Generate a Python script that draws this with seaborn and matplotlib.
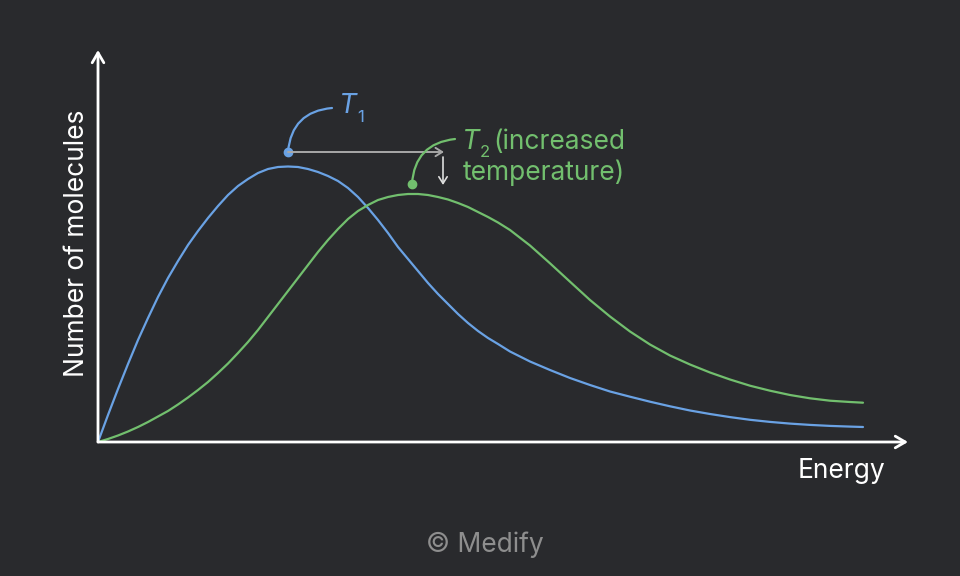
import matplotlib
matplotlib.use("Agg")
import matplotlib.pyplot as plt
import seaborn as sns
import pandas as pd

# energy distribution (arbitrary units)
energy_t1 = [0, 10, 20, 30, 40, 50, 60, 70, 80, 90, 100, 110, 120, 130, 140, 150,
             160, 170, 180, 190, 200, 210, 220, 230, 240, 250, 260, 270, 280, 290,
             300, 310, 320, 330, 340, 350, 360, 370, 380, 390, 400, 412, 432, 452,
             472, 492, 512, 532, 552, 572, 592, 612, 632, 652, 672, 692, 712, 732,
             752, 765]
count_t1 = [0, 27, 53, 78, 102, 124, 145, 164, 181, 197, 211, 224, 236, 247, 256,
            263, 269, 273, 275, 275.5, 275, 273, 270, 266, 261, 254, 245, 234, 222,
            209, 195, 183, 171, 159, 148, 138, 128, 119, 111, 104, 98, 90.5, 80.5,
            72, 64, 57, 50.5, 45.3, 40.3, 35.7, 31.5, 28, 24.9, 22.2, 20.1, 18.4,
            17.1, 16.1, 15.4, 15]

energy_t2 = [0, 10, 20, 30, 40, 50, 60, 70, 80, 90, 100, 110, 120, 130, 140, 150,
             160, 170, 180, 190, 200, 210, 220, 230, 240, 250, 260, 270, 280, 290,
             300, 310, 320, 330, 340, 350, 360, 370, 380, 390, 400, 412, 432, 452,
             472, 492, 512, 532, 552, 572, 592, 612, 632, 652, 672, 692, 712, 732,
             752, 765]
count_t2 = [0, 3, 6.5, 10.5, 15, 20, 25.5, 31, 37.5, 44.5, 52, 60, 69, 78.5, 89,
            100, 112, 125, 138, 151, 164, 177, 190, 202, 213, 223, 231, 237, 242,
            245, 247, 248, 248, 247, 245, 242.5, 239, 235, 230, 225, 219.5, 212,
            196.5, 178.7, 160.3, 142, 125.5, 110.5, 97.5, 86.5, 77.5, 69.5, 62.5,
            56.3, 51.3, 47, 43.7, 41.3, 40, 39.3]

bg = "#292a2d"
blue = "#6aa2e4"
green = "#72bf6e"
grey = "#a8a8a8"

sns.set_theme(style="dark", rc={"axes.facecolor": bg, "figure.facecolor": bg})
plt.rcParams["font.family"] = ["Inter", "DejaVu Sans"]

fig = plt.figure(figsize=(9.6, 5.76), dpi=100)
ax = fig.add_axes([98 / 960, (576 - 442) / 576, 810 / 960, 392 / 576])
ax.set_xlim(0, 810)
ax.set_ylim(0, 392)
for s in ax.spines.values():
    s.set_visible(False)
ax.set_xticks([])
ax.set_yticks([])
ax.grid(False)

df1 = pd.DataFrame({"energy": energy_t1, "count": count_t1})
df2 = pd.DataFrame({"energy": energy_t2, "count": count_t2})
sns.lineplot(data=df1, x="energy", y="count", color=blue, lw=1.6, ax=ax, sort=False)
sns.lineplot(data=df2, x="energy", y="count", color=green, lw=1.6, ax=ax, sort=False)
ax.set_xlabel("")
ax.set_ylabel("")

# axis arrows
arrow = dict(arrowstyle="->,head_length=0.6,head_width=0.35", color="white", lw=2,
             shrinkA=0, shrinkB=0)
ax.annotate("", xy=(1, 0), xytext=(0, 0), xycoords="axes fraction",
            textcoords="axes fraction", arrowprops=arrow, annotation_clip=False)
ax.annotate("", xy=(0, 1), xytext=(0, 0), xycoords="axes fraction",
            textcoords="axes fraction", arrowprops=arrow, annotation_clip=False)

ax.text(-21, 198.5, "Number of molecules", rotation=90, ha="center", va="center",
        color="white", fontsize=19)
ax.text(743, -29, "Energy", ha="center", va="center", color="white", fontsize=19)

# T1 annotation
ax.plot(190, 290, "o", color=blue, ms=6)
ax.annotate("", xy=(190, 290), xytext=(234, 334),
            arrowprops=dict(arrowstyle="-", color=blue, lw=1.6, shrinkA=0, shrinkB=0,
                            connectionstyle="arc3,rad=0.42"))
ax.text(241, 329, "T", color=blue, fontsize=20, style="italic", va="baseline")
ax.text(259, 320, "1", color=blue, fontsize=12, va="baseline")

# shift arrows
ax.annotate("", xy=(346, 290), xytext=(190, 290),
            arrowprops=dict(arrowstyle="->,head_length=0.4,head_width=0.25",
                            color=grey, lw=1.4, shrinkA=0, shrinkB=0))
ax.annotate("", xy=(345, 257), xytext=(345, 285),
            arrowprops=dict(arrowstyle="->,head_length=0.4,head_width=0.25",
                            color="#dddddd", lw=1.2, shrinkA=0, shrinkB=0))

# T2 annotation
ax.plot(314, 258, "o", color=green, ms=6)
ax.annotate("", xy=(314, 258), xytext=(357, 303),
            arrowprops=dict(arrowstyle="-", color=green, lw=1.6, shrinkA=0, shrinkB=0,
                            connectionstyle="arc3,rad=0.42"))
ax.text(364, 293, "T", color=green, fontsize=20, style="italic", va="baseline")
ax.text(382, 285, "2", color=green, fontsize=12, va="baseline")
ax.text(395, 293, "(increased", color=green, fontsize=19, va="baseline")
ax.text(365, 262, "temperature)", color=green, fontsize=19, va="baseline")

fig.text(0.505, 1 - 545 / 576, "© Medify", ha="center", va="center",
         color="#8e8e8e", fontsize=19)

fig.savefig("out.png", dpi=100, facecolor=bg)
